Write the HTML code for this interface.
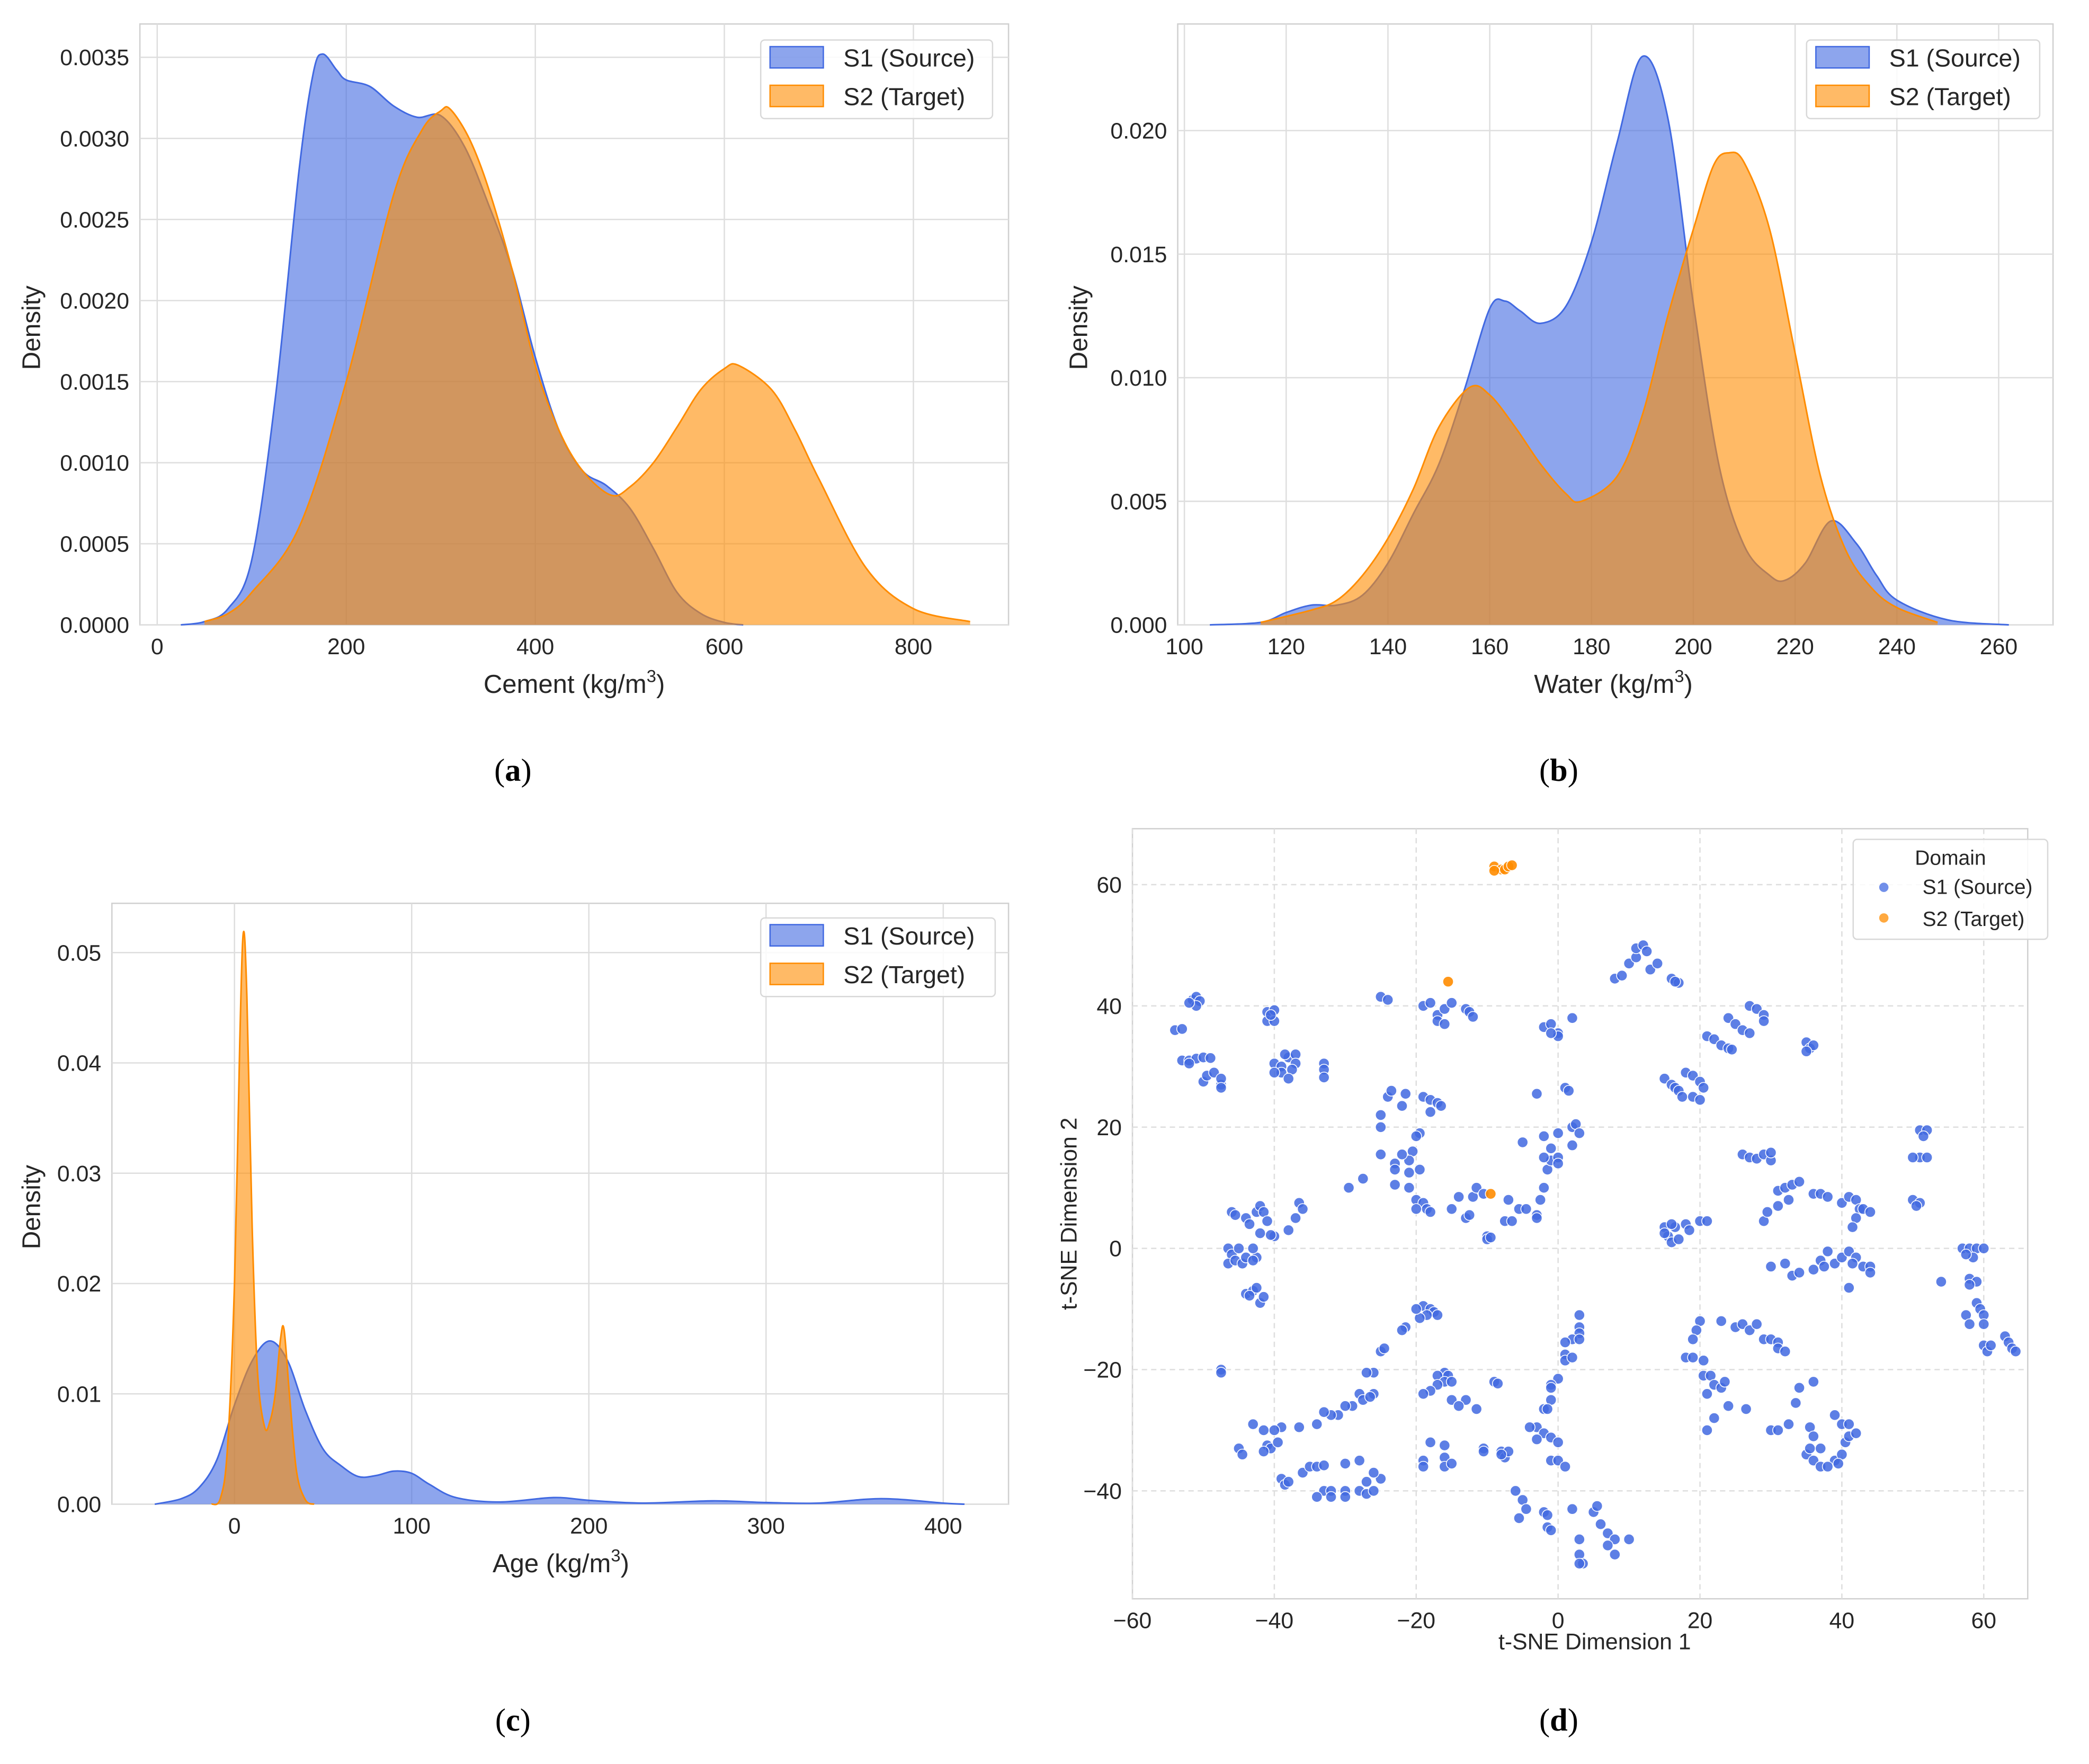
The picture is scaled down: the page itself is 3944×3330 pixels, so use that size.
<!DOCTYPE html>
<html><head><meta charset="utf-8">
<style>
html,body{margin:0;padding:0;background:#fff;}
svg{display:block;}
text{font-family:"Liberation Sans",Arial,sans-serif;fill:#262626;}
.cap{font-family:"Liberation Serif",serif;fill:#000;}
</style></head>
<body>
<svg id="fig" width="3944" height="3330" viewBox="0 0 1568 1324" preserveAspectRatio="none" xmlns="http://www.w3.org/2000/svg"></svg>
<script>
// ---------- data ----------
const cementX  = [25,50,75,100,125,150,165,175,190,200,225,250,275,300,325,350,375,400,425,450,475,500,525,550,575,600,620];
const cementS1 = [0,0.02,0.1,0.4,1.4,2.8,3.4,3.52,3.42,3.36,3.32,3.2,3.13,3.14,2.95,2.6,2.2,1.65,1.2,0.95,0.86,0.72,0.47,0.2,0.07,0.015,0];
const cementX2 = [50,75,100,150,200,250,280,300,310,330,350,375,400,425,450,480,500,525,550,575,600,615,650,675,700,750,800,860];
const cementS2 = [0.02,0.07,0.2,0.6,1.5,2.65,3.05,3.17,3.18,3.0,2.7,2.2,1.6,1.2,0.95,0.8,0.85,1.0,1.22,1.45,1.58,1.6,1.45,1.2,0.9,0.35,0.1,0.02];
const waterX   = [105,115,120,125,130,135,140,145,150,155,160,163,166,170,175,180,185,190,195,200,205,210,215,218,222,227,232,236,240,250,262];
const waterS1  = [0,0.1,0.5,0.8,0.8,1.2,2.5,4.5,6.5,9.5,12.8,13.1,12.7,12.2,12.9,15.5,19.5,23.0,20.5,13.0,6.5,3.2,2.0,1.8,2.5,4.2,3.3,2.0,1.0,0.2,0];
const waterX2  = [115,125,130,135,140,145,150,156,160,165,170,175,178,185,190,195,200,204,207,210,215,220,225,230,235,240,248];
const waterS2  = [0.1,0.6,1.0,2.0,3.5,5.5,8.0,9.6,9.3,8.0,6.5,5.3,5.0,6.0,8.5,12.5,16.0,18.6,19.1,18.7,16.0,11.0,6.0,3.0,1.5,0.7,0.1];
const ageX     = [-45,-30,-20,-10,0,10,20,30,40,50,60,70,80,90,100,110,125,150,180,200,230,270,300,330,365,400,412];
const ageS1    = [0,0.5,1.5,4.0,9.0,13.0,14.8,13.0,8.5,5.0,3.5,2.5,2.6,3.0,2.8,1.8,0.6,0.2,0.6,0.35,0.1,0.3,0.15,0.1,0.5,0.1,0];
const ageX2    = [-13,-8,-4,0,3,5,7,10,13,17,20,23,26,28,31,35,40,45];
const ageS2    = [0,0.5,5,20,42,51.8,46,25,12,7,7.5,10,15,15.8,10,3,0.4,0];
const aTicks = [0,200,400,600,800], aYTicks=[0,0.5,1,1.5,2,2.5,3,3.5], aYLabels=["0.0000","0.0005","0.0010","0.0015","0.0020","0.0025","0.0030","0.0035"];
const bTicks = [100,120,140,160,180,200,220,240,260], bYTicks=[0,5,10,15,20], bYLabels=["0.000","0.005","0.010","0.015","0.020"];
const cTicks = [0,100,200,300,400], cYTicks=[0,10,20,30,40,50], cYLabels=["0.00","0.01","0.02","0.03","0.04","0.05"];
const dXTicks = [-60,-40,-20,0,20,40,60], dYTicks=[-40,-20,0,20,40,60];
const tsneS1 = [[-54,36],[-53,36.2],[-53,31],[-52,31],[-51,31.3],[-50,31.5],[-49,31.4],[-52,30.5],[-51.5,41],[-51,41.5],[-50.5,40.8],[-51,40],[-52,40.5],[-50,27.5],[-49.5,28.5],[-48.5,29],[-47.5,27],[-47.5,28],[-47.5,26.5],
[-41,39],[-40,39.3],[-41,37.5],[-40,37.5],[-40.5,38.5],[-40,30.5],[-39,30],[-38,31.5],[-37,32],[-38.5,32],[-37,30.5],[-37.5,29.5],[-39,29],[-40,29],[-38,28],[-33,30.5],[-33,29.5],[-33,28.2],
[-25,41.5],[-24,41],[-19,40],[-18,40.5],[-17,38.5],[-16,39.5],[-15,40.5],[-17,37.5],[-16,37],[-13,39.5],[-12.5,39],[-12,38.2],
[-2,36.5],[-1,37],[0,35.5],[0,35],[-1,35.5],[2,38],
[8,44.5],[9,45],[10,47],[11,48],[11,49.5],[12,50],[12.5,49],[13,46],[14,47],[16,44.5],[17,43.8],[16.5,44],
[21,35],[22,34.5],[23,33.5],[24,33],[24.5,32.8],[24,38],[25,37],[26,36],[27,35.5],[27,40],[28,39.5],[29,38.5],[29,37.5],[35,34],[35.5,33],[36,33.5],[35,32.5],
[15,28],[16,27],[16.5,26.5],[17,26],[17.5,25],[18,29],[19,28.5],[20,27.5],[20.5,26.5],[19,25],[20,24.5],
[-25,22],[-25,20],[-24,25],[-23.5,26],[-21.5,25.5],[-22,23.5],[-19,25],[-18,24.5],[-17,24],[-16.5,23.5],[-18,22.5],[-19.5,19],[-20,18.5],[-20.5,16],[-21,14.5],[-22,15.5],[-23,14],[-23,13],[-21,12.5],[-19.5,13],[-23,10.5],[-21,10],[-20,8],[-19,7.5],[-18.5,6.5],[-18,6],[-20,6.5],[-25,15.5],[-27.5,11.5],[-29.5,10],
[-15,6.5],[-13,5],[-12.5,5.5],[-14,8.5],[-12,8.5],[-11.5,10],[-10.5,9],[-10,2],[-10,1.5],[-9.5,1.8],[-7,8],[-7.5,4.5],[-6.5,4.5],[-5.5,6.5],[-4.5,6.5],[-3,5.5],[-3,5],[-2.5,8],[-2,10],[-1.5,13],[-1,14.5],[-2,15],[0,15],[0,14],[-1,16.5],[-2,18.5],[-5,17.5],[2,20],[2.5,20.5],[3,19],[2,17],[0,19],[-3,25.5],[1,26.5],[1.5,26],
[-46,6],[-45.5,5.5],[-44,5],[-43.5,4],[-42.5,6],[-42,7],[-41.5,6],[-41,4.5],[-40,2],[-40.5,2.2],[-38,3],[-37,5],[-36.5,7.5],[-36,6.5],[-42,2.5],[-42.5,-1.5],[-46.5,0],[-46,-1],[-46.5,-2.5],[-45.5,-2],[-45,0],[-44.5,-2.5],[-44,-1.5],[-43,0],[-43,-2],[-44,-7.5],[-43,-7],[-42.5,-6.5],[-42,-9],[-41.5,-8],[-43.5,-7.8],
[-47.5,-20],[-47.5,-20.5],
[15,3.5],[15.5,2],[16,1],[16.5,3.5],[17,1.5],[15,2.5],[16,4],[18,4],[18.5,3],[20,4.5],[21,4.5],
[26,15.5],[27,15],[28,14.8],[29,15.5],[30,14.5],[30,15.8],
[31,9.5],[32,10],[33,10.5],[34,11],[32.5,8],[31,7],[29,4.5],[29.5,6],[36,9],[37,9],[38,8.5],[40,7.5],[41,8.5],[42,8],[42.5,6.5],[43,6.5],[42,5],[41.5,3.5],[44,6],
[50,8],[51,7.5],[50.5,7],[51,19.5],[52,19.5],[51.5,18.5],[51,15],[52,15],[50,15],
[30,-3],[32,-2.5],[33,-4.5],[34,-4],[36,-3.5],[37,-2],[38,-0.5],[39,-2.5],[40,-1.5],[41,-0.5],[42,-1.5],[43,-3],[44,-3],[44,-4],[41,-6.5],[41.5,-2.5],[37.5,-3],
[54,-5.5],[57,0],[58,0],[59,0],[60,0],[58.5,-1.5],[57.5,-1],[58,-5],[59,-5.5],[58,-6],[57.5,-11],[58,-12.5],[59,-9],[59.5,-10],[60,-11],[60,-12.5],[60,-16],[60.5,-17],[61,-16],[63,-14.5],[63.5,-15.5],[64,-16.5],[64.5,-17],
[-19,-9.5],[-18,-10],[-17.5,-10.5],[-18.5,-11],[-19.5,-11.5],[-17,-11],[-20,-10],[-21.5,-13],[-22,-13.5],[-25,-17],[-24.5,-16.5],[-26,-20.5],[-27,-20.5],[-26,-24],[-28,-24],[-27.5,-25],[-26.5,-24.5],[-29,-26],[-30,-26],[-31,-27.5],[-32,-27.5],[-33,-27],[-34,-29],[-36.5,-29.5],[-39,-29.5],[-40,-30],[-41.5,-30],[-43,-29],[-41,-32.5],[-40.5,-33],[-41.5,-33.5],[-39.5,-32],[-45,-33],[-44.5,-34],[-36,-37],[-39,-38],[-38.5,-39],[-38,-38.5],[-35,-36],[-34,-36],[-33,-40],[-34,-41],[-32,-40],[-32,-41],[-30,-40],[-30,-41],[-28,-40],[-27,-40.5],[-26,-40],[-27,-38.5],[-25,-38],[-26,-37],[-28,-35],[-30,-35.5],[-33,-35.8],
[-16,-20.5],[-17,-21],[-15.5,-21],[-16,-22],[-17,-22.5],[-15,-22],[-18,-23.5],[-19,-24],[-15,-25],[-13,-25],[-14,-26],[-11.5,-26.5],[-9,-22],[-8.5,-22.3],[-18,-32],[-16,-32.5],[-19,-35],[-19,-36],[-16,-34.5],[-16,-36],[-15,-35.5],[-10.5,-33],[-10.5,-33.5],[-8,-33.5],[-7.5,-34.5],[-7,-33.5],[-8,-34],
[-3,-29.5],[-4,-29.5],[-2,-30.5],[-1,-31.2],[0,-32],[-3,-31.5],[-1,-35],[0,-35],[1,-36],[3,-13],[3,-11],[3,-14],[2,-15],[3,-15],[1,-15.5],[1,-17.5],[1,-18.5],[2,-18],[0,-21.5],[-1,-22.5],[-1,-23],[-1,-25],[-2,-26.5],[-1.5,-26.5],
[-6,-40],[-5,-41.5],[-5.5,-44.5],[-4.5,-43],[-2,-43.5],[-1.5,-44],[-1.5,-46],[-1,-46.5],[2,-43],[3,-48],[3,-50.5],[3.5,-52],[3,-52],[5,-43.5],[5.5,-42.5],[6,-45.5],[7,-47],[8,-48],[8,-50.5],[7,-49],[10,-48],
[20,-12],[19.5,-13.5],[19,-15],[18,-18],[19,-18],[20.5,-18.5],[20.5,-21],[21.5,-21],[21,-24],[22,-22.5],[23,-23],[23.5,-22],[22,-28],[21,-30],[24,-26],[26.5,-26.5],[23,-12],[25,-13],[26,-12.5],[27,-13.5],[28,-12.5],[29,-15],[30,-15],[31,-15.5],[31,-16.5],[32,-17],[30,-30],[31,-30],[32.5,-29],[34,-23],[36,-22],[33.5,-25.5],[35.5,-29.5],[36,-31],[35,-34],[36,-35],[37,-33],[37,-36],[39,-35],[40,-34],[40.5,-32],[41,-31],[40,-29],[39,-27.5],[41,-29],[42,-30.5],[38,-36],[39.5,-35.5],[35.5,-33]];
const tsneS2 = [[-9,63],[-8,62.5],[-7.5,62.5],[-7,63],[-6.5,63.2],[-9,62.3],[-15.5,44],[-9.5,9]];

// ---------- helpers ----------
const NS="http://www.w3.org/2000/svg";
const svg=document.getElementById('fig');
function mk(tag,attrs,parent){const e=document.createElementNS(NS,tag);for(const k in attrs)e.setAttribute(k,attrs[k]);(parent||svg).appendChild(e);return e;}
function txt(s,x,y,size,anchor,parent,extra){const t=mk('text',Object.assign({x:x,y:y,'font-size':size,'text-anchor':anchor||'middle'},extra||{}),parent);t.textContent=s;return t;}
function smooth(pts){let d='M'+pts[0][0]+','+pts[0][1];for(let i=0;i<pts.length-1;i++){const p0=pts[Math.max(i-1,0)],p1=pts[i],p2=pts[i+1],p3=pts[Math.min(i+2,pts.length-1)];const c1=[p1[0]+(p2[0]-p0[0])/6,p1[1]+(p2[1]-p0[1])/6],c2=[p2[0]-(p3[0]-p1[0])/6,p2[1]-(p3[1]-p1[1])/6];d+='C'+c1[0]+','+c1[1]+' '+c2[0]+','+c2[1]+' '+p2[0]+','+p2[1];}return d;}

function panel(o){
  const g=mk('g',{});
  
  
  const sx=v=>o.px0+(v-o.x0)*o.kx, sy=v=>o.py0-(v-o.y0)*o.ky;
  mk('rect',{x:o.L,y:o.T,width:o.R-o.L,height:o.B-o.T,fill:'#fff',stroke:'#d0d0d0','stroke-width':1},g);
  const grid=mk('g',{},g);
  
  
  o.xt.forEach(v=>{mk('line',{x1:sx(v),x2:sx(v),y1:o.T,y2:o.B,stroke:'#dedede','stroke-width':1,'stroke-dasharray':o.dash||'none'},grid);
    const t=txt(o.xl?o.xl(v):String(v),sx(v),o.B+22,17,'middle',g);});
  o.yt.forEach((v,i)=>{mk('line',{x1:o.L,x2:o.R,y1:sy(v),y2:sy(v),stroke:'#dedede','stroke-width':1,'stroke-dasharray':o.dash||'none'},grid);
    const t=txt(o.yl[i],o.L-8,sy(v)+6,17,'end',g);});
  return {g,sx,sy};
}
function kde(p,xs,ys,fill,stroke,name){
  const pts=xs.map((x,i)=>[p.sx(x),p.sy(ys[i])]);
  const base=p.sy(0);
  const d=smooth(pts)+'L'+pts[pts.length-1][0]+','+base+'L'+pts[0][0]+','+base+'Z';
  const a=mk('path',{d:d,fill:fill,'fill-opacity':0.6,stroke:'none'},p.g);
  
  
  const l=mk('path',{d:smooth(pts),fill:'none',stroke:stroke,'stroke-width':1.2},p.g);
  
  
}
function legend(p,x,y,w){
  const lg=mk('g',{},p.g);
  
  
  mk('rect',{x:x,y:y,width:w,height:59,rx:3,fill:'#fff','fill-opacity':0.85,stroke:'#d8d8d8'},lg);
  const e1=mk('rect',{x:x+7,y:y+5,width:40,height:16,fill:'#4169e1','fill-opacity':0.6,stroke:'#4169e1'},lg);
  
  
  const e2=mk('rect',{x:x+7,y:y+34,width:40,height:16,fill:'#ff8c00','fill-opacity':0.6,stroke:'#ff8c00'},lg);
  
  
  const t1=txt('S1 (Source)',x+62,y+20,18.5,'start',lg);
  
  
  const t2=txt('S2 (Target)',x+62,y+49,18.5,'start',lg);
  
  
}
function xlabel(label,x,y,g){const t=mk('text',{x:x,y:y,'font-size':19.5,'text-anchor':'middle'},g);t.innerHTML=label+' (kg/m<tspan font-size="13" dy="-8">3</tspan><tspan dy="8">)</tspan>';}
function ylabel(label,x,y,g,size){const t=txt(label,x,y,size||19,'middle',g,{transform:'rotate(-90 '+x+' '+y+')'});}
function caption(s,x,y){const t=mk('text',{x:x,y:y,'font-size':24,'text-anchor':'middle',class:'cap'});t.innerHTML='(<tspan font-weight="bold">'+s+'</tspan>)';}

// ---------- panel a ----------
const pa=panel({name:'panel-a-cement',L:105,R:757,T:18,B:469,px0:118,x0:0,kx:0.7095,py0:469,y0:0,ky:(469-43)/3.5,xt:aTicks,yt:aYTicks,yl:aYLabels});
kde(pa,cementX,cementS1,'#4169e1','#4169e1','cement-s1');
kde(pa,cementX2,cementS2,'#ff8c00','#ff8c00','cement-s2');
legend(pa,571,30,174);
xlabel('Cement',431,520,pa.g); ylabel('Density',30,246,pa.g);
caption('a',385,586);

// ---------- panel b ----------
const pb=panel({name:'panel-b-water',L:884,R:1541,T:18,B:469,px0:889,x0:100,kx:76.4/20,py0:469,y0:0,ky:(469-98)/20,xt:bTicks,yt:bYTicks,yl:bYLabels});
kde(pb,waterX,waterS1,'#4169e1','#4169e1','water-s1');
kde(pb,waterX2,waterS2,'#ff8c00','#ff8c00','water-s2');
legend(pb,1356,30,175);
xlabel('Water',1211,520,pb.g); ylabel('Density',816,246,pb.g);
caption('b',1170,586);

// ---------- panel c ----------
const pc=panel({name:'panel-c-age',L:84,R:757,T:678,B:1129,px0:176,x0:0,kx:1.33,py0:1129,y0:0,ky:(1129-715)/50,xt:cTicks,yt:cYTicks,yl:cYLabels});
kde(pc,ageX,ageS1,'#4169e1','#4169e1','age-s1');
kde(pc,ageX2,ageS2,'#ff8c00','#ff8c00','age-s2');
legend(pc,571,689,176);
xlabel('Age',421,1180,pc.g); ylabel('Density',30,906,pc.g);
caption('c',385,1299);

// ---------- panel d ----------
const minus=v=>String(v).replace('-','\u2212');
const pd=panel({name:'panel-d-tsne',L:850,R:1522,T:622,B:1200,px0:850,x0:-60,kx:106.5/20,py0:1119,y0:-40,ky:(1119-664)/100,xt:dXTicks,yt:dYTicks,yl:dYTicks.map(minus),xl:minus,dash:'4,3'});
const pts=mk('g',{},pd.g);


tsneS1.forEach(p=>{const c=mk('circle',{cx:pd.sx(p[0]),cy:pd.sy(p[1]),r:4,fill:'#4169e1','fill-opacity':0.85,stroke:'#fff','stroke-width':0.6},pts);
  
  });
tsneS2.forEach(p=>{const c=mk('circle',{cx:pd.sx(p[0]),cy:pd.sy(p[1]),r:4,fill:'#ff8c00','fill-opacity':0.9,stroke:'#fff','stroke-width':0.6},pts);
  
  });
const dl=mk('g',{},pd.g);


mk('rect',{x:1391,y:630,width:146,height:75,rx:3,fill:'#fff','fill-opacity':0.85,stroke:'#d8d8d8'},dl);
txt('Domain',1464,649,15.5,'middle',dl);
mk('circle',{cx:1414,cy:666,r:3.5,fill:'#4169e1','fill-opacity':0.75},dl);
mk('circle',{cx:1414,cy:689,r:3.5,fill:'#ff8c00','fill-opacity':0.75},dl);
const d1=txt('S1 (Source)',1443,671,15.5,'start',dl);


const d2=txt('S2 (Target)',1443,695,15.5,'start',dl);


const dxl=txt('t-SNE Dimension 1',1197,1238,17,'middle',pd.g);


ylabel('t-SNE Dimension 2',808,911,pd.g,17);
caption('d',1170,1299);
</script>
</body></html>
